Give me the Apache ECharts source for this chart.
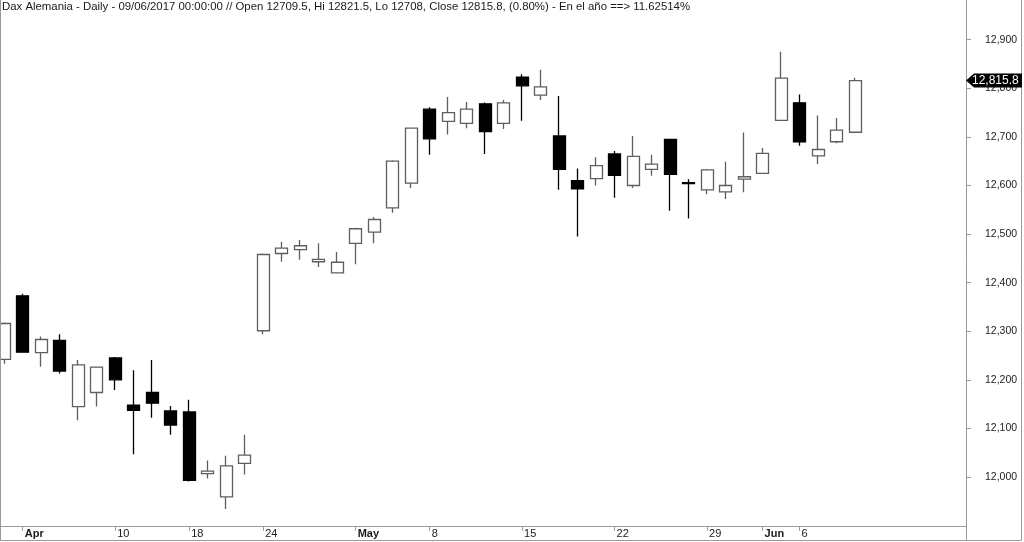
<!DOCTYPE html>
<html><head><meta charset="utf-8">
<script src="https://cdn.jsdelivr.net/npm/echarts@6/dist/echarts.min.js"></script>
<style>html,body{margin:0;padding:0;background:#fff}#c{width:1024px;height:542px}</style>
</head><body><div id="c"></div>
<script>
const titleText = 'Dax Alemania - Daily - 09/06/2017 00:00:00 // Open 12709.5, Hi 12821.5, Lo 12708, Close 12815.8, (0.80%) - En el año ==> 11.62514%';

const dates = ['2017-03-31',
  '2017-04-03','2017-04-04','2017-04-05','2017-04-06','2017-04-07',
  '2017-04-10','2017-04-11','2017-04-12','2017-04-13',
  '2017-04-18','2017-04-19','2017-04-20','2017-04-21',
  '2017-04-24','2017-04-25','2017-04-26','2017-04-27','2017-04-28',
  '2017-05-02','2017-05-03','2017-05-04','2017-05-05',
  '2017-05-08','2017-05-09','2017-05-10','2017-05-11','2017-05-12',
  '2017-05-15','2017-05-16','2017-05-17','2017-05-18','2017-05-19',
  '2017-05-22','2017-05-23','2017-05-24','2017-05-25','2017-05-26',
  '2017-05-29','2017-05-30','2017-05-31','2017-06-01','2017-06-02',
  '2017-06-06','2017-06-07','2017-06-08','2017-06-09'];

const openV  = [12242,12373,12256,12281,12145,12174,12245,12148,12174,12136,12134,12007,11959,12028,12301,12460,12468,12443,12420,12481,12504,12554,12605,12757,12732,12728,12768,12728,12823,12786,12702,12610,12614,12665,12600,12633,12695,12606,12591,12587,12613,12625,12734,12770,12661,12690,12709.5];
const closeV = [12316,12257,12283,12218,12231,12226,12200,12137,12152,12107,11993,12012,12023,12045,12458,12471,12476,12448,12442,12511,12530,12650,12718,12696,12750,12757,12711,12770,12805,12803,12633,12593,12641,12621,12660,12644,12623,12604,12632,12600,12618,12666,12821,12690,12674,12714,12815.8];
const lowV   = [12233,12256,12227,12213,12117,12145,12179,12047,12122,12087,11991,11997,11934,12005,12294,12443,12447,12432,12419,12438,12481,12544,12595,12663,12705,12718,12665,12716,12733,12776,12591,12495,12600,12575,12595,12620,12548,12532,12582,12572,12586,12624,12733,12682,12644,12687,12708];
const highV  = [12318,12377,12289,12294,12241,12227,12247,12220,12241,12146,12159,12034,12044,12087,12460,12484,12488,12481,12463,12513,12535,12652,12719,12761,12782,12772,12771,12776,12829,12838,12784,12635,12658,12671,12702,12663,12696,12613,12634,12649,12709,12677,12875,12787,12744,12739,12821.5];

const tickDates  = ['2017-04-03','2017-04-10','2017-04-18','2017-04-24','2017-05-02','2017-05-08','2017-05-15','2017-05-22','2017-05-29','2017-06-01','2017-06-06'];
const tickLabels = ['Apr','10','18','24','May','8','15','22','29','Jun','6'];
const yTicks = [12000,12100,12200,12300,12400,12500,12600,12700,12800,12900];

const xMin = -0.23, xMax = 52;
const yMin = 11897.8, yMax = 12981.7;

const tickIdx = tickDates.map(d => dates.indexOf(d));
const seriesData = dates.map((d, i) => [i, openV[i], closeV[i], lowV[i], highV[i]]);
const lastClose = closeV[closeV.length - 1];
const fmt = v => v.toLocaleString('en-US', {maximumFractionDigits: 1});

const FONT = '"Liberation Sans", Arial, sans-serif';
const AX = '#9a9a9a';

const chart = echarts.init(document.getElementById('c'), null, {renderer: 'canvas'});

const cv = document.createElement('canvas').getContext('2d');
cv.font = '11.5px "Liberation Sans"';
const tw = cv.measureText(titleText).width;
const sx = 688 / tw;

const baseGraphics = [
  {type: 'rect', silent: true, z: 100,
   shape: {x: 0.5, y: -2, width: 1021, height: 542.5},
   style: {fill: null, stroke: '#9a9a9a', lineWidth: 1}},
  {type: 'text', silent: true, z: 100, x: 2, y: 1, scaleX: sx,
   style: {text: titleText, font: '11.5px ' + FONT, fill: '#1a1a1a', textVerticalAlign: 'top'}}
];

chart.setOption({
  animation: false,
  backgroundColor: '#fff',
  grid: {left: 0, right: 58, top: 0, bottom: 15.3, containLabel: false},
  xAxis: {
    type: 'value', min: xMin, max: xMax,
    axisLine: {show: true, onZero: false, lineStyle: {color: AX, width: 1}},
    axisTick: {show: true, length: 4, customValues: tickIdx, lineStyle: {color: AX}},
    splitLine: {show: false},
    axisLabel: {
      customValues: tickIdx, margin: 2, align: 'left',
      formatter: v => {
        const k = tickIdx.indexOf(Math.round(v));
        const t = tickLabels[k] || '';
        return /^\d/.test(t) ? '{n|' + t + '}' : '{m|' + t + '}';
      },
      rich: {
        n: {fontSize: 11, fontFamily: FONT, color: '#1a1a1a', padding: [0, 0, 0, 2]},
        m: {fontSize: 11, fontFamily: FONT, fontWeight: 'bold', color: '#1a1a1a', padding: [0, 0, 0, 2]}
      }
    }
  },
  yAxis: {
    type: 'value', position: 'right', min: yMin, max: yMax,
    axisLine: {show: true, onZero: false, lineStyle: {color: AX, width: 1}},
    axisTick: {show: true, length: 5, customValues: yTicks, lineStyle: {color: AX}},
    splitLine: {show: false},
    axisLabel: {
      customValues: yTicks, margin: 19, align: 'left',
      fontSize: 10.5, fontFamily: FONT, color: '#222',
      formatter: v => fmt(v)
    }
  },
  series: [{
    type: 'candlestick',
    data: seriesData,
    encode: {x: 0, y: [1, 2, 3, 4]},
    barWidth: 12.5,
    clip: true,
    itemStyle: {
      color: '#ffffff', color0: '#000000',
      borderColor: '#5e5e5e', borderColor0: '#000000',
      borderWidth: 1.3
    }
  }],
  graphic: baseGraphics
});

const yTag = chart.convertToPixel({yAxisIndex: 0}, lastClose);
const xAxisPx = chart.convertToPixel({xAxisIndex: 0}, xMax);
const yBase = chart.convertToPixel({yAxisIndex: 0}, yMin);
chart.setOption({
  graphic: baseGraphics.concat([
    {type: 'line', silent: true, z: 100,
     shape: {x1: Math.round(xAxisPx) + 0.5, y1: yBase, x2: Math.round(xAxisPx) + 0.5, y2: 541},
     style: {stroke: '#9a9a9a', lineWidth: 1}},
    {type: 'polygon', silent: true, z: 110,
     shape: {points: [[xAxisPx, yTag], [xAxisPx + 8, yTag - 7], [1022, yTag - 7], [1022, yTag + 7], [xAxisPx + 8, yTag + 7]]},
     style: {fill: '#000'}},
    {type: 'text', silent: true, z: 111, x: xAxisPx + 6, y: yTag,
     style: {text: fmt(lastClose), font: '12px ' + FONT, fill: '#fff', textVerticalAlign: 'middle', textAlign: 'left'}}
  ])
});
</script></body></html>
